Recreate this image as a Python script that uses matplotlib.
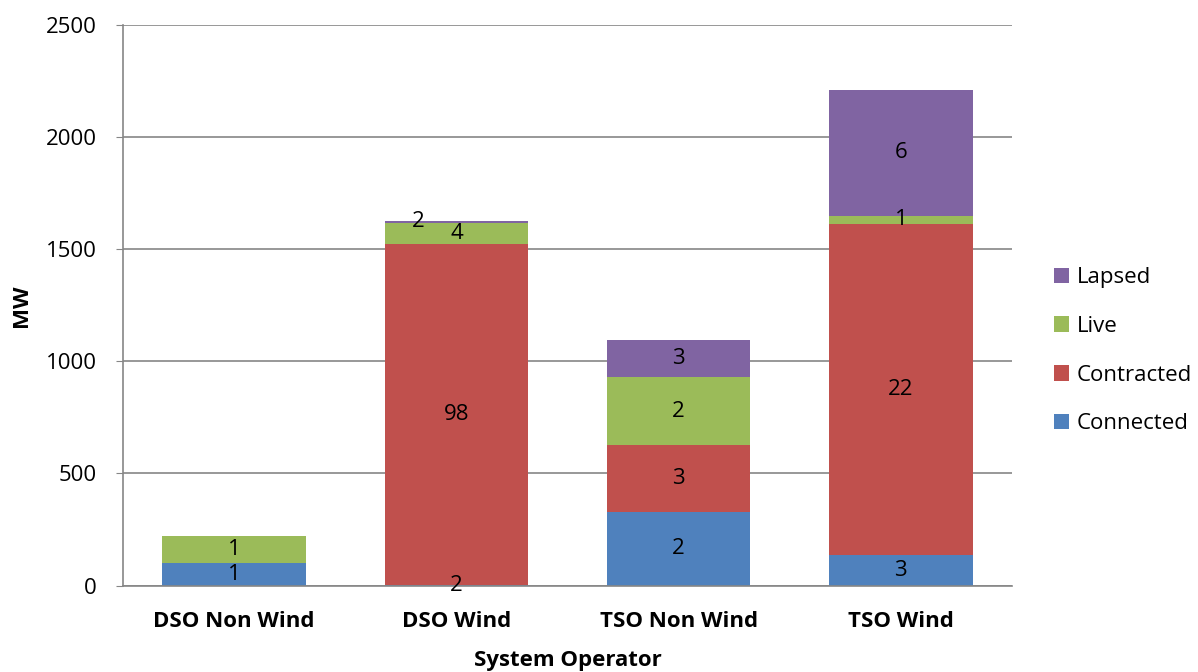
import numpy as np
import matplotlib.pyplot as plt
from matplotlib.patches import Patch

plt.rcParams['font.family'] = ['Open Sans', 'DejaVu Sans']

categories = ['DSO Non Wind', 'DSO Wind', 'TSO Non Wind', 'TSO Wind']
series = ['Connected', 'Contracted', 'Live', 'Lapsed']

# MW per status
connected = [102, 3, 330, 136]
contracted = [0, 1521, 298, 1478]
live = [118, 93, 300, 35]
lapsed = [0, 11, 168, 562]

# number of projects shown on each segment (None = no label)
n_connected = [1, 2, 2, 3]
n_contracted = [None, 98, 3, 22]
n_live = [1, 4, 2, 1]
n_lapsed = [None, 2, 3, 6]

colors = ['#4F81BD', '#C0504D', '#9BBB59', '#8064A2']

values = [connected, contracted, live, lapsed]
counts = [n_connected, n_contracted, n_live, n_lapsed]

fig = plt.figure(figsize=(11.98, 6.72), dpi=100)
ax = fig.add_axes([0.1027, 0.1287, 0.742, 0.8341])

x = np.arange(len(categories))
bottom = np.zeros(len(categories))
for vals, cnts, col, name in zip(values, counts, colors, series):
    vals = np.array(vals, dtype=float)
    ax.bar(x, vals, width=0.645, bottom=bottom, color=col, label=name, zorder=2)
    for xi, b, v, c in zip(x, bottom, vals, cnts):
        if c is None:
            continue
        xt = xi
        # thin lapsed slice on DSO Wind: nudge its label left so it clears the live one
        if name == 'Lapsed' and v < 30:
            xt = xi - 0.17
        ax.text(xt, b + v / 2, str(c), ha='center', va='center',
                fontsize=16, color='black', zorder=3)
    bottom += vals

ax.set_xlim(-0.5, len(categories) - 0.5)
ax.set_ylim(0, 2500)
ax.set_yticks(np.arange(0, 2501, 500))
ax.yaxis.grid(True, color='#868686', linewidth=1.2, zorder=0)
ax.set_axisbelow(True)

for side in ['top', 'right']:
    ax.spines[side].set_visible(False)
for side in ['left', 'bottom']:
    ax.spines[side].set_color('#868686')
    ax.spines[side].set_linewidth(1.2)

ax.set_xticks(x)
ax.set_xticklabels(categories, fontsize=16, fontweight='bold')
ax.tick_params(axis='x', length=0, pad=18)
ax.tick_params(axis='y', labelsize=16, color='#868686', length=5, pad=14)

ax.set_xlabel('System Operator', fontsize=16, fontweight='bold', labelpad=13)
ax.set_ylabel('MW', fontsize=16, fontweight='bold', labelpad=10)

handles = [Patch(facecolor=c, label=s) for c, s in zip(colors, series)][::-1]
fig.legend(handles=handles, loc='center left', bbox_to_anchor=(0.863, 0.478),
           frameon=False, fontsize=16, handlelength=0.68, handleheight=0.68,
           handletextpad=0.36, labelspacing=1.25)

fig.savefig('out.png', dpi=100)
